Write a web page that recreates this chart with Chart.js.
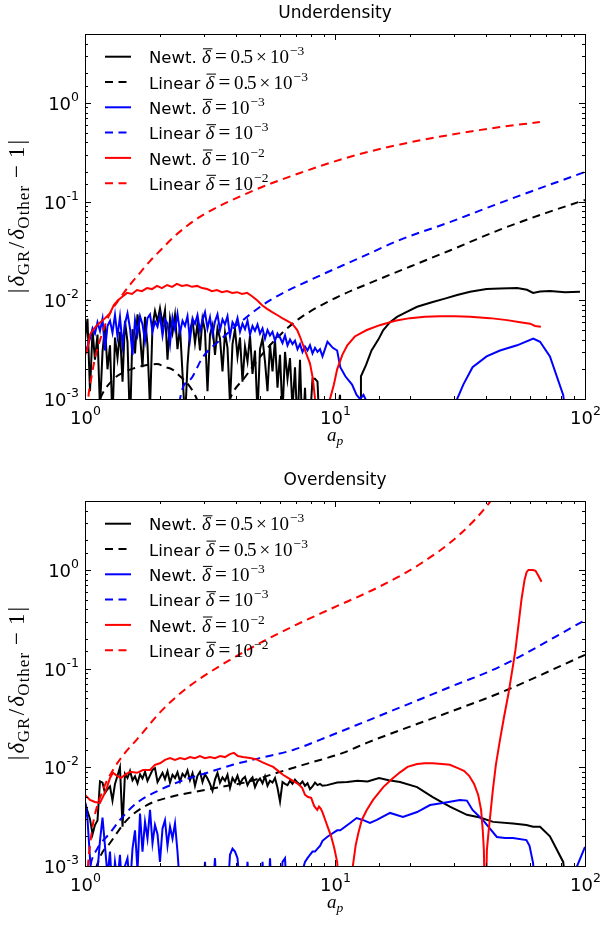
<!DOCTYPE html>
<html>
<head>
<meta charset="utf-8">
<script src="https://cdn.jsdelivr.net/npm/chart.js@4.4.1/dist/chart.umd.min.js"></script>
<style>
  html, body { margin: 0; padding: 0; background: #ffffff; }
  canvas { display: block; }
</style>
</head>
<body>
<canvas id="under" width="600" height="467"></canvas>
<canvas id="over" width="600" height="461"></canvas>
<script>
// Output times (scale factor a_p) of the noisy N-body runs
const GRID_A = [
  1.000,1.023,1.047,1.072,1.096,1.122,1.148,1.175,1.202,1.230,
  1.259,1.288,1.318,1.349,1.380,1.413,1.445,1.479,1.514,1.549,
  1.585,1.622,1.660,1.698,1.738,1.778,1.820,1.862,1.905,1.950,
  1.995,2.042,2.089,2.138,2.188,2.239,2.291,2.344,2.399,2.455,
  2.512,2.570,2.630,2.692,2.754,2.818,2.884,2.951,3.020,3.090,
  3.162,3.236,3.311,3.388,3.467,3.548,3.631,3.715,3.802,3.890,
  3.981,4.074,4.169,4.266,4.365,4.467,4.571,4.677,4.786,4.898,
  5.012,5.129,5.248,5.370,5.495,5.623,5.754,5.888,6.026,6.166,
  6.310,6.457,6.607,6.761,6.918,7.079,7.244,7.413,7.586,7.762,
  7.943,8.128,8.318,8.511,8.710,8.913
];

// ---------------- Underdensity ----------------
const UNDER_NEWT_05_EARLY = [
  0.0040,0.0065,0.0012,0.0050,0.0025,0.0045,0.0008,0.0030,0.0055,0.0020,
  0.0035,0.0006,0.0042,0.0026,0.0048,0.0015,0.0062,0.0038,0.0005,0.0051,
  0.0029,0.0072,0.0044,0.0021,0.0068,0.0035,0.0008,0.0055,0.0078,0.0061,
  0.0083,0.0058,0.0079,0.0025,0.0066,0.0047,0.0071,0.0032,0.0054,0.0018,
  0.0006,0.0022,0.0049,0.0063,0.0037,0.0058,0.0031,0.0065,0.0049,0.0012,
  0.0045,0.0056,0.0028,0.0052,0.0041,0.0019,0.0047,0.0033,0.0009,0.0036,
  0.0051,0.0027,0.0042,0.0015,0.0034,0.0024,0.0044,0.0018,0.0031,0.0007,
  0.0032,0.0041,0.0024,0.0012,0.0036,0.0019,0.0040,0.0013,0.0028,0.0007,
  0.0030,0.0016,0.0026,0.0008,0.0021,0.0005,0.0025,0.0004,0.0013,0.0003,
  0.0006,0.0016,0.0016,0.0015,0.0004,0.0002
];
const UNDER_NEWT_05_LATE = [
  [9.2,0.0003],[10.0,0.0004],[10.47,0.0011],[10.7,0.0003],[12.4,0.0003],
  [12.6,0.0010],[12.7,0.0017],[13.3,0.0022],[14.0,0.0031],[14.9,0.0040],
  [15.6,0.0050],[16.6,0.0060],[17.7,0.0068],[19.1,0.0075],[21.3,0.0086],
  [24.6,0.0096],[27.5,0.0104],[30.8,0.0113],[34.7,0.0122],[40.4,0.0130],
  [45.7,0.0132],[53.5,0.0133],[58.6,0.0128],[62.0,0.0119],[66.1,0.0123],
  [72.4,0.0124],[83.2,0.0121],[95.5,0.0122]
];
const UNDER_LIN_05 = [
  [1.0,0.0003],[1.08,0.0006],[1.148,0.0010],[1.29,0.00156],[1.45,0.0019],
  [1.58,0.00206],[1.75,0.0022],[1.94,0.00226],[2.1,0.0021],[2.23,0.0020],
  [2.4,0.0017],[2.56,0.00145],[2.7,0.0012],[2.8,0.0010],[3.0,0.0006],
  [3.3,0.0001],[3.6,0.0006],[3.8,0.0010],[4.37,0.00167],[5.16,0.00292],
  [6.0,0.0044],[7.24,0.0066],[10.0,0.0105],[14.7,0.0160],[20.0,0.0220],
  [28.8,0.0320],[45.7,0.0520],[70.0,0.0770],[100,0.1040]
];
const UNDER_NEWT_1_EARLY = [
  0.0030,0.0034,0.0041,0.0052,0.0046,0.0060,0.0049,0.0065,0.0031,0.0055,
  0.0062,0.0047,0.0071,0.0043,0.0068,0.0035,0.0058,0.0074,0.0052,0.0028,
  0.0063,0.0045,0.0069,0.0057,0.0039,0.0066,0.0072,0.0048,0.0061,0.0054,
  0.0070,0.0044,0.0064,0.0058,0.0036,0.0067,0.0051,0.0073,0.0047,0.0062,
  0.0055,0.0069,0.0040,0.0065,0.0058,0.0071,0.0049,0.0063,0.0076,0.0052,
  0.0067,0.0045,0.0061,0.0072,0.0050,0.0064,0.0057,0.0069,0.0043,0.0060,
  0.0054,0.0066,0.0048,0.0058,0.0051,0.0062,0.0045,0.0055,0.0049,0.0057,
  0.0046,0.0052,0.0041,0.0050,0.0044,0.0048,0.0039,0.0046,0.0042,0.0037,
  0.0044,0.0035,0.0040,0.0036,0.0039,0.0032,0.0036,0.0030,0.0034,0.0031,
  0.0035,0.0029,0.0033,0.0030,0.0032,0.0027
];
const UNDER_NEWT_1_LATE = [
  [9.33,0.0038],[9.8,0.0033],[10.2,0.0031],[10.5,0.0021],[11.0,0.0017],
  [11.7,0.0014],[12.2,0.0011],[12.6,0.0010],[13.0,0.0011],[13.5,0.0009],
  [14.0,0.0006],[15.0,0.0002],[29.0,0.0003],[30.8,0.0010],[32.6,0.0014],
  [35.5,0.0021],[40.4,0.0027],[45.7,0.0031],[53.5,0.0035],[62.1,0.0041],
  [66.1,0.0038],[72.4,0.0027],[81.8,0.0011],[86.0,0.0004]
];
const UNDER_LIN_1 = [
  [2.3,0.0001],[2.4,0.0010],[2.63,0.00156],[2.96,0.00266],[3.47,0.00396],
  [4.28,0.0063],[5.49,0.0100],[7.94,0.0160],[12.6,0.0270],[18.2,0.0410],
  [28.8,0.0620],[45.7,0.0970],[100,0.2000]
];
const UNDER_NEWT_2 = [
  [1.0,0.0028],[1.019,0.0031],[1.047,0.0045],[1.076,0.0050],[1.117,0.0056],
  [1.18,0.0063],[1.225,0.0069],[1.259,0.0074],[1.306,0.0090],[1.355,0.0100],
  [1.406,0.0108],[1.472,0.0119],[1.542,0.0116],[1.614,0.0127],[1.69,0.0124],
  [1.77,0.0133],[1.854,0.0130],[1.94,0.0140],[2.03,0.0133],[2.13,0.0143],
  [2.23,0.0137],[2.33,0.0147],[2.44,0.0140],[2.56,0.0143],[2.68,0.0137],
  [2.81,0.0140],[2.94,0.0133],[3.08,0.0130],[3.22,0.0124],[3.37,0.0127],
  [3.53,0.0121],[3.70,0.0124],[3.88,0.0119],[4.06,0.0121],[4.25,0.0116],
  [4.45,0.0119],[4.66,0.0110],[4.88,0.0100],[5.11,0.0089],[5.35,0.0082],
  [5.61,0.0076],[5.87,0.0071],[6.15,0.0066],[6.44,0.0062],[6.74,0.0058],
  [7.06,0.0050],[7.24,0.0043],[7.59,0.0031],[7.94,0.0023],[8.16,0.0016],
  [8.32,0.0010],[8.6,0.0004],[9.2,0.0001],[9.55,0.0010],[9.9,0.0014],
  [10.2,0.0020],[10.7,0.0028],[11.2,0.0035],[12.0,0.0043],[13.4,0.0050],
  [15.1,0.0056],[17.4,0.0062],[19.95,0.0066],[22.9,0.0068],[26.3,0.0069],
  [30.2,0.0069],[34.7,0.0068],[41.7,0.0066],[48.8,0.0063],[55.0,0.0060],
  [60.3,0.0058],[63.1,0.0055],[66.6,0.0054]
];
const UNDER_LIN_2 = [
  [1.0,0.0003],[1.03,0.0010],[1.063,0.0017],[1.10,0.0027],[1.15,0.0040],
  [1.20,0.0055],[1.26,0.0074],[1.38,0.0105],[1.50,0.0140],[1.66,0.0190],
  [1.82,0.0250],[2.0,0.0320],[2.29,0.0450],[2.88,0.0700],[4.57,0.1250],
  [7.24,0.1950],[11.5,0.2850],[18.2,0.3800],[28.8,0.4750],[45.7,0.5700],
  [66.0,0.6400]
];

// ---------------- Overdensity ----------------
const OVER_NEWT_05_EARLY = [
  0.0044,0.0036,0.0030,0.0021,0.0026,0.0029,0.0072,0.0070,0.0055,0.0060,
  0.0064,0.0046,0.0068,0.0082,0.0100,0.0025,0.0086,0.0078,0.0092,0.0074,
  0.0081,0.0069,0.0085,0.0077,0.0090,0.0073,0.0083,0.0094,0.0098,0.0071,
  0.0079,0.0088,0.0076,0.0091,0.0070,0.0084,0.0078,0.0089,0.0072,0.0086,
  0.0080,0.0093,0.0074,0.0087,0.0065,0.0082,0.0090,0.0071,0.0085,0.0077,
  0.0068,0.0058,0.0075,0.0088,0.0070,0.0079,0.0073,0.0084,0.0062,0.0078,
  0.0071,0.0082,0.0068,0.0076,0.0080,0.0066,0.0074,0.0079,0.0063,0.0072,
  0.0077,0.0069,0.0081,0.0065,0.0073,0.0070,0.0078,0.0062,0.0045,0.0071,
  0.0068,0.0066,0.0073,0.0068,0.0075,0.0070,0.0067,0.0072,0.0065,0.0069,
  0.0060,0.0064,0.0070,0.0066,0.0068,0.0065
];
const OVER_NEWT_05_LATE = [
  [9.3,0.0066],[10.2,0.0070],[11.2,0.0071],[12.3,0.0073],[13.5,0.0072],
  [15.0,0.0078],[16.4,0.0074],[18.2,0.0071],[21.3,0.0063],[24.6,0.0050],
  [28.8,0.0040],[33.7,0.0033],[38.0,0.0031],[42.9,0.0028],[51.5,0.0027],
  [58.3,0.0026],[62.0,0.0025],[66.1,0.0025],[72.4,0.0020],[81.8,0.0011],
  [85.0,0.0005],[88.0,0.0003]
];
const OVER_LIN_05 = [
  [1.0,0.0002],[1.06,0.0006],[1.148,0.00123],[1.259,0.00171],[1.472,0.00293],
  [1.77,0.00415],[2.19,0.0050],[2.70,0.0056],[3.47,0.0063],[4.45,0.0071],
  [5.86,0.0088],[7.94,0.0111],[10.76,0.0140],[13.4,0.0177],[28.8,0.0364],
  [45.7,0.0568],[100,0.1380]
];
const OVER_NEWT_1_EARLY = [
  0.0045,0.0030,0.0012,0.0006,0.0004,0.0009,0.0018,0.0031,0.0016,0.0008,
  0.0014,0.0005,0.0011,0.0007,0.0013,0.0005,0.0010,0.0012,0.0006,0.0015,
  0.0023,0.0009,0.0034,0.0014,0.0028,0.0019,0.0037,0.0017,0.0026,0.0021,
  0.0011,0.0024,0.0029,0.0016,0.0025,0.0019,0.0027,0.0014,0.0006,0.0003,
  0.0004,0.0003,0.0005,0.0003,0.0004,0.0003,0.0005,0.0004,0.0011,0.0004,
  0.0003,0.0005,0.0012,0.0004,0.0003,0.0004,0.0010,0.0005,0.0013,0.0015,
  0.0014,0.0012,0.0006,0.0003,0.0004,0.0011,0.0004,0.0003,0.0005,0.0004,
  0.0003,0.0011,0.0004,0.0003,0.0012,0.0004,0.0003,0.0005,0.0004,0.0011,
  0.0012,0.0004,0.0003,0.0004,0.0005,0.0004,0.0008,0.0009,0.0011,0.0012,
  0.0013,0.0014,0.0014,0.0015,0.0016,0.0018
];
const OVER_NEWT_1_LATE = [
  [9.3,0.00197],[9.55,0.00206],[10.2,0.0023],[10.5,0.0023],[11.5,0.00273],
  [12.2,0.00306],[12.9,0.00293],[13.8,0.00273],[14.7,0.00293],[16.6,0.00345],
  [18.7,0.00314],[21.3,0.00352],[24.0,0.00415],[27.0,0.00435],[31.6,0.00467],
  [33.7,0.0046],[35.5,0.0037],[39.0,0.00293],[44.4,0.00197],[47.9,0.00192],
  [51.5,0.00192],[58.3,0.00183],[60.0,0.0016],[62.0,0.00107],[63.5,0.0004],
  [88.0,0.0003],[93.0,0.0010],[100,0.00156]
];
const OVER_LIN_1 = [
  [1.0,0.0004],[1.05,0.0010],[1.12,0.0015],[1.259,0.00216],[1.38,0.00293],
  [1.61,0.00435],[1.995,0.0059],[2.47,0.0074],[3.08,0.0088],[3.9,0.0106],
  [5.0,0.0124],[6.8,0.0150],[8.7,0.0190],[13.4,0.0295],[28.8,0.0650],
  [45.7,0.1050],[100,0.3100]
];
const OVER_NEWT_2 = [
  [1.0,0.00525],[1.047,0.00467],[1.096,0.00445],[1.148,0.00435],[1.19,0.00525],
  [1.225,0.0063],[1.259,0.0078],[1.294,0.0088],[1.343,0.0082],[1.393,0.0078],
  [1.445,0.0084],[1.514,0.0090],[1.614,0.0088],[1.706,0.0094],[1.82,0.0094],
  [1.905,0.0106],[1.995,0.0110],[2.089,0.0119],[2.188,0.0124],[2.29,0.0119],
  [2.40,0.0124],[2.51,0.0121],[2.63,0.0127],[2.75,0.0124],[2.88,0.0130],
  [3.02,0.0124],[3.16,0.0127],[3.31,0.0124],[3.47,0.0130],[3.63,0.0127],
  [3.80,0.0136],[3.94,0.0140],[4.09,0.0130],[4.28,0.0127],[4.57,0.0124],
  [4.83,0.0121],[5.11,0.0113],[5.41,0.0106],[5.66,0.0101],[5.92,0.0092],
  [6.19,0.0084],[6.49,0.0078],[6.79,0.0073],[7.11,0.0068],[7.39,0.0062],
  [7.59,0.00525],[7.80,0.0050],[8.03,0.0049],[8.25,0.00406],[8.49,0.0037],
  [8.63,0.0040],[8.78,0.0038],[8.93,0.00345],[9.20,0.00279],[9.38,0.00243],
  [9.65,0.0020],[9.93,0.00152],[10.2,0.0011],[10.5,0.0004],[10.96,0.0001],
  [11.5,0.0005],[11.8,0.00102],[12.1,0.00163],[12.4,0.00216],[12.8,0.00293],
  [13.4,0.0037],[14.2,0.00467],[15.6,0.0063],[16.9,0.0076],[18.2,0.0089],
  [19.5,0.0101],[21.3,0.0108],[22.9,0.0110],[24.6,0.0110],[26.8,0.0108],
  [28.8,0.0106],[31.0,0.0098],[32.8,0.0092],[34.4,0.0082],[36.0,0.0068],
  [37.4,0.00525],[38.4,0.0037],[39.0,0.0023],[39.4,0.00145],[40.0,0.0002],
  [40.5,0.00145],[41.2,0.0023],[42.0,0.0037],[42.8,0.0059],[44.0,0.0106],
  [45.7,0.019],[47.4,0.032],[49.3,0.054],[51.2,0.097],[52.7,0.155],
  [54.2,0.28],[55.7,0.50],[57.3,0.79],[58.4,0.95],[59.4,1.0],
  [62.0,1.0],[63.4,0.98],[65.2,0.87],[67.0,0.76]
];
const OVER_LIN_2 = [
  [1.0,0.0002],[1.028,0.0010],[1.047,0.0016],[1.077,0.0027],[1.18,0.0059],
  [1.294,0.0094],[1.445,0.0140],[1.614,0.0192],[1.995,0.0360],[2.40,0.0560],
  [2.88,0.0790],[4.57,0.1600],[7.24,0.2900],[9.55,0.4000],[15.1,0.6800],
  [21.9,1.150],[31.6,2.300],[41.7,4.900],[45.7,7.000]
];

// axis extents
const X_MIN = 1, X_MAX = 100;
const Y_MIN = 1e-3, Y_MAX = 5;

// legend entries: kind, coefficient, exponent
const LEGEND_KIND = ['Newt.', 'Linear', 'Newt.', 'Linear', 'Newt.', 'Linear'];
const LEGEND_COEF = ['0.5', '0.5', null, null, null, null];
const LEGEND_EXP  = ['\u22123', '\u22123', '\u22123', '\u22123', '\u22122', '\u22122'];

const COLORS = ['#000000', '#000000', '#0000ff', '#0000ff', '#ff0000', '#ff0000'];
const DASHED = [false, true, false, true, false, true];
const DASH = [8, 5.5];

const SANS = '"DejaVu Sans", sans-serif';
const SERIF = '"Liberation Serif", "DejaVu Serif", serif';
const F_TICK = '18px ' + SANS;
const F_TICK_EXP = '12.5px ' + SANS;
const F_LEG = '16.5px ' + SANS;
const F_M = '19px ' + SERIF;
const F_MEQ = '21px ' + SERIF;
const F_MI = 'italic 19px ' + SERIF;
const F_MS = '13.5px ' + SERIF;
const F_MSI = 'italic 13.5px ' + SERIF;
const F_YL = '23px ' + SERIF;
const F_YLI = 'italic 23px ' + SERIF;
const F_YLS = '17px ' + SERIF;

const gridPts = vals => vals.map((v, i) => ({ x: GRID_A[i], y: v }));
const pairPts = arr => arr.map(([a, v]) => ({ x: a, y: v }));

function runsWidth(ctx, runs) {
  let w = 0;
  for (const r of runs) {
    ctx.font = r.font;
    ctx.letterSpacing = (r.ls || 0) + 'px';
    w += (r.gap || 0) + ctx.measureText(r.text).width;
  }
  ctx.letterSpacing = '0px';
  return w;
}
function drawRuns(ctx, runs, x, y) {
  for (const r of runs) {
    ctx.font = r.font;
    ctx.letterSpacing = (r.ls || 0) + 'px';
    x += r.gap || 0;
    ctx.fillText(r.text, x, y + (r.dy || 0));
    x += ctx.measureText(r.text).width;
  }
  ctx.letterSpacing = '0px';
  return x;
}
function seg(ctx, x1, y1, x2, y2) {
  ctx.beginPath(); ctx.moveTo(x1, y1); ctx.lineTo(x2, y2); ctx.stroke();
}
const isDecade = v => Math.abs(Math.log10(v) - Math.round(Math.log10(v))) < 1e-9;
const powRuns = e => [
  { text: '10', font: F_TICK },
  { text: (e < 0 ? '-' : '') + Math.abs(e), font: F_TICK_EXP, dy: -9 }
];

// frame, inward ticks, power-of-ten labels, math axis labels and legend
const decorPlugin = {
  id: 'decor',
  afterDraw(chart) {
    const { ctx, chartArea: ca } = chart;
    const xs = chart.scales.x, ys = chart.scales.y;
    const L = ca.left, R = ca.right, T = ca.top, B = ca.bottom;
    ctx.save();
    ctx.strokeStyle = '#000'; ctx.fillStyle = '#000';
    ctx.lineWidth = 1; ctx.setLineDash([]);
    ctx.textBaseline = 'alphabetic'; ctx.textAlign = 'left';
    ctx.strokeRect(L + 0.5, T + 0.5, R - L, B - T);

    for (const t of xs.ticks) {
      const v = t.value;
      if (v < xs.min || v > xs.max) continue;
      const px = Math.round(xs.getPixelForValue(v)) + 0.5;
      const len = isDecade(v) ? 6 : 3;
      seg(ctx, px, B, px, B - len);
      seg(ctx, px, T, px, T + len);
      if (isDecade(v)) {
        const runs = powRuns(Math.round(Math.log10(v)));
        drawRuns(ctx, runs, px - runsWidth(ctx, runs) / 2, B + 25);
      }
    }
    for (const t of ys.ticks) {
      const v = t.value;
      if (v < ys.min || v > ys.max) continue;
      const py = Math.round(ys.getPixelForValue(v)) + 0.5;
      const len = isDecade(v) ? 6 : 3;
      seg(ctx, L, py, L + len, py);
      seg(ctx, R, py, R - len, py);
      if (isDecade(v)) {
        const runs = powRuns(Math.round(Math.log10(v)));
        drawRuns(ctx, runs, 79 - runsWidth(ctx, runs), py + 6.5);
      }
    }

    // x-axis label a_p
    const xl = [{ text: 'a', font: F_MI }, { text: 'p', font: F_MSI, dy: 4 }];
    drawRuns(ctx, xl, (L + R) / 2 - runsWidth(ctx, xl) / 2, B + 42);

    // y-axis label |δ_GR/δ_Other − 1|
    const yl = [
      { text: '|', font: F_YL },
      { text: '\u03b4', font: F_YLI, gap: 2 },
      { text: 'GR', font: F_YLS, dy: 4.5, ls: 1, gap: 0.5 },
      { text: '/', font: F_YL, gap: 1.5 },
      { text: '\u03b4', font: F_YLI, gap: 2 },
      { text: 'Other', font: F_YLS, dy: 4.5, ls: 1, gap: 0.5 },
      { text: '\u2212', font: F_YL, gap: 7 },
      { text: '1', font: F_YL, gap: 7 },
      { text: '|', font: F_YL, gap: 2 }
    ];
    ctx.save();
    ctx.translate(24, (T + B) / 2);
    ctx.rotate(-Math.PI / 2);
    drawRuns(ctx, yl, -runsWidth(ctx, yl) / 2, 0);
    ctx.restore();

    // legend
    for (let i = 0; i < LEGEND_KIND.length; i++) {
      const base = 63.3 + 25.3 * i;
      ctx.strokeStyle = COLORS[i];
      ctx.lineWidth = 2;
      ctx.setLineDash(DASHED[i] ? DASH : []);
      seg(ctx, 105, base - 6.6, 131, base - 6.6);
      ctx.setLineDash([]);
      ctx.strokeStyle = '#000';
      ctx.font = F_LEG;
      const word = LEGEND_KIND[i] + ' ';
      ctx.fillText(word, 149, base);
      const xd = 149 + ctx.measureText(word).width;
      ctx.font = F_MI;
      ctx.fillText('\u03b4', xd, base);
      ctx.lineWidth = 1;
      seg(ctx, xd + 1, base - 14.5, xd + 10.5, base - 14.5);
      ctx.font = F_MEQ;
      ctx.fillText('=', xd + 13, base);
      ctx.font = F_M;
      let x10 = xd + 28.5;
      if (LEGEND_COEF[i]) {
        const parts = LEGEND_COEF[i].split('.');
        ctx.fillText(parts[0] + '.', xd + 28.5, base);
        ctx.fillText(parts[1], xd + 41.5, base);
        ctx.fillText('\u00d7', xd + 54, base);
        x10 = xd + 68;
      }
      ctx.fillText('10', x10, base);
      ctx.font = F_MS;
      ctx.fillText(LEGEND_EXP[i], x10 + 20, base - 8);
    }
    ctx.restore();
  }
};

function buildPanel(id, title, series) {
  const datasets = series.map((pts, i) => ({
    data: pts,
    borderColor: COLORS[i],
    backgroundColor: COLORS[i],
    borderWidth: 2,
    borderDash: DASHED[i] ? DASH : [],
    pointRadius: 0,
    fill: false,
    tension: 0,
    cubicInterpolationMode: DASHED[i] ? 'monotone' : 'default',
    order: series.length - i
  }));
  return new Chart(document.getElementById(id), {
    type: 'line',
    data: { datasets },
    options: {
      responsive: false,
      animation: false,
      devicePixelRatio: 1,
      layout: { padding: { left: 0, right: 15, top: 0, bottom: 0 } },
      plugins: {
        legend: { display: false },
        tooltip: { enabled: false },
        title: {
          display: true, text: title, fullSize: false, color: '#000000',
          font: { family: 'DejaVu Sans', size: 17, weight: 'normal', lineHeight: 1.2 },
          padding: { top: 3, bottom: 10.6 }
        }
      },
      scales: {
        x: {
          type: 'logarithmic', min: X_MIN, max: X_MAX,
          grid: { display: false }, border: { display: false },
          ticks: { display: false },
          afterFit(s) { s.height = s.chart.height - 399; }
        },
        y: {
          type: 'logarithmic', min: Y_MIN, max: Y_MAX,
          grid: { display: false }, border: { display: false },
          ticks: { display: false },
          afterFit(s) { s.width = 85; }
        }
      }
    },
    plugins: [decorPlugin]
  });
}

buildPanel('under', 'Underdensity', [
  gridPts(UNDER_NEWT_05_EARLY).concat(pairPts(UNDER_NEWT_05_LATE)),
  pairPts(UNDER_LIN_05),
  gridPts(UNDER_NEWT_1_EARLY).concat(pairPts(UNDER_NEWT_1_LATE)),
  pairPts(UNDER_LIN_1),
  pairPts(UNDER_NEWT_2),
  pairPts(UNDER_LIN_2)
]);
buildPanel('over', 'Overdensity', [
  gridPts(OVER_NEWT_05_EARLY).concat(pairPts(OVER_NEWT_05_LATE)),
  pairPts(OVER_LIN_05),
  gridPts(OVER_NEWT_1_EARLY).concat(pairPts(OVER_NEWT_1_LATE)),
  pairPts(OVER_LIN_1),
  pairPts(OVER_NEWT_2),
  pairPts(OVER_LIN_2)
]);
</script>
</body>
</html>
